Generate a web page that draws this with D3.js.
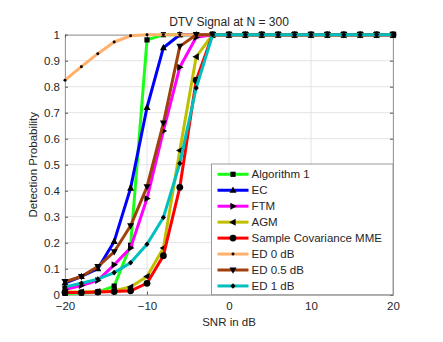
<!DOCTYPE html>
<html><head><meta charset="utf-8">
<script src="https://cdn.jsdelivr.net/npm/d3@7"></script>
<style>
html,body{margin:0;padding:0;background:#fff;}
svg{display:block;font-family:"Liberation Sans",Arial,sans-serif;}
</style></head>
<body>
<script>
const snr = [-20,-18,-16,-14,-12,-10,-8,-6,-4,-2,0,2,4,6,8,10,12,14,16,18,20];
const alg1 = [0.005,0.007,0.01,0.033,0.19,0.98,1,1,1,1,1,1,1,1,1,1,1,1,1,1,1];
const ec   = [0.045,0.07,0.10,0.205,0.41,0.72,0.95,1,1,1,1,1,1,1,1,1,1,1,1,1,1];
const ftm  = [0.02,0.035,0.055,0.115,0.18,0.37,0.63,0.875,0.99,1,1,1,1,1,1,1,1,1,1,1,1];
const agm  = [0.01,0.01,0.012,0.015,0.03,0.07,0.18,0.555,0.915,1,1,1,1,1,1,1,1,1,1,1,1];
const mme  = [0.008,0.008,0.01,0.012,0.015,0.044,0.15,0.413,0.825,1,1,1,1,1,1,1,1,1,1,1,1];
const ed0  = [0.825,0.877,0.927,0.972,0.996,1,1,1,1,1,1,1,1,1,1,1,1,1,1,1,1];
const ed05 = [0.05,0.07,0.108,0.165,0.265,0.415,0.66,0.955,1,1,1,1,1,1,1,1,1,1,1,1,1];
const ed1  = [0.03,0.044,0.06,0.085,0.123,0.194,0.297,0.505,0.795,1,1,1,1,1,1,1,1,1,1,1,1];
const seriesNames = ["Algorithm 1","EC","FTM","AGM","Sample Covariance MME","ED 0 dB","ED 0.5 dB","ED 1 dB"];
const seriesValues = [alg1, ec, ftm, agm, mme, ed0, ed05, ed1];
const seriesColors = ["#1aff1a","#0000ff","#ff00ff","#bfbf00","#ff0000","#ffb06a","#a0410d","#00bfbf"];
const seriesMarkers = ["square","triUp","triRight","triLeft","circle","dot","triDown","diamond"];
const xTicks = [-20,-10,0,10,20];
const yTicks = [0,0.1,0.2,0.3,0.4,0.5,0.6,0.7,0.8,0.9,1];
const titleText = "DTV Signal at N = 300";
const xLabel = "SNR in dB";
const yLabel = "Detection Probability";

const W = 443, H = 342;
const m = {l:65, r:50, t:34.7, b:47.3};
const pw = W - m.l - m.r, ph = H - m.t - m.b;

const svg = d3.select("body").append("svg").attr("width", W).attr("height", H);
const x = d3.scaleLinear().domain([-20,20]).range([0,pw]);
const y = d3.scaleLinear().domain([0,1]).range([ph,0]);
const g = svg.append("g").attr("transform", `translate(${m.l},${m.t})`);

// grid
g.append("g").selectAll("line.gx").data(xTicks).join("line")
  .attr("x1", d=>x(d)).attr("x2", d=>x(d)).attr("y1",0).attr("y2",ph)
  .attr("stroke","#e3e3e3").attr("stroke-width",1);
g.append("g").selectAll("line.gy").data(yTicks).join("line")
  .attr("y1", d=>y(d)).attr("y2", d=>y(d)).attr("x1",0).attr("x2",pw)
  .attr("stroke","#e3e3e3").attr("stroke-width",1);

// axes
const axCol = "#999";
const txtCol = "#262626";
const xa = g.append("g").attr("transform",`translate(0,${ph})`)
  .call(d3.axisBottom(x).tickValues(xTicks).tickSize(-3).tickPadding(7.5).tickFormat(d3.format("d")));
const ya = g.append("g")
  .call(d3.axisLeft(y).tickValues(yTicks).tickSize(-3).tickPadding(5).tickFormat(d=> d===0||d===1 ? d3.format("d")(d) : d3.format(".1f")(d)));
g.append("g").attr("transform",`translate(${pw},0)`)
  .call(d3.axisRight(y).tickValues(yTicks).tickSize(-3).tickFormat(""));
g.append("g")
  .call(d3.axisTop(x).tickValues(xTicks).tickSize(-3).tickFormat(""));
g.selectAll(".domain").attr("stroke",axCol);
g.selectAll(".tick line").attr("stroke","#555");
g.selectAll(".tick text").attr("fill",txtCol).style("font-size","11.5px").style("font-family","'Liberation Sans',Arial,sans-serif");

// marker path generator
function markerPath(type){
  switch(type){
    case "square": return "M-2.6,-2.6H2.6V2.6H-2.6Z";
    case "triUp": return "M0,-3.8L3.5,2.6L-3.5,2.6Z";
    case "triDown": return "M0,3.8L3.5,-2.6L-3.5,-2.6Z";
    case "triRight": return "M3.8,0L-2.6,3.5L-2.6,-3.5Z";
    case "triLeft": return "M-3.8,0L2.6,3.5L2.6,-3.5Z";
    case "circle": return d3.symbol(d3.symbolCircle, 36)();
    case "dot": return d3.symbol(d3.symbolCircle, 7)();
    case "diamond": return "M0,-2.8L2.6,0L0,2.8L-2.6,0Z";
  }
}

const line = d3.line().x((d,i)=>x(snr[i])).y(d=>y(d));
const plot = g.append("g");
seriesValues.forEach((vals, k)=>{
  const sg = plot.append("g");
  sg.append("path").datum(vals).attr("d", line)
    .attr("fill","none").attr("stroke", seriesColors[k]).attr("stroke-width",3)
    .attr("stroke-linejoin","round");
  sg.selectAll("path.mk").data(vals).join("path").attr("class","mk")
    .attr("transform",(d,i)=>`translate(${x(snr[i])},${y(d)})`)
    .attr("d", markerPath(seriesMarkers[k])).attr("fill","#000");
});

// title & labels
svg.append("text").attr("x", m.l+pw/2).attr("y", 26).attr("text-anchor","middle")
  .attr("fill",txtCol).style("font-size","12px").text(titleText);
svg.append("text").attr("x", m.l+pw/2).attr("y", 326).attr("text-anchor","middle")
  .attr("fill",txtCol).style("font-size","11.5px").text(xLabel);
svg.append("text").attr("transform",`translate(37,${m.t+ph/2}) rotate(-90)`).attr("text-anchor","middle")
  .attr("fill",txtCol).style("font-size","11.5px").text(yLabel);

// legend
const lg = svg.append("g").attr("transform","translate(211.5,164)");
const lw = 393 - 211.5, lh = 294.7 - 164;
lg.append("rect").attr("width",lw).attr("height",lh).attr("fill","#fff").attr("stroke",axCol).attr("stroke-width",1);
seriesNames.forEach((name,k)=>{
  const yy = 10.3 + k*15.95;
  lg.append("line").attr("x1",6).attr("x2",37).attr("y1",yy).attr("y2",yy)
    .attr("stroke",seriesColors[k]).attr("stroke-width",3);
  lg.append("path").attr("transform",`translate(21.5,${yy})`).attr("d",markerPath(seriesMarkers[k])).attr("fill","#000");
  lg.append("text").attr("x",40).attr("y",yy+4).attr("fill",txtCol).style("font-size","11.5px").text(name);
});
</script>
</body></html>
